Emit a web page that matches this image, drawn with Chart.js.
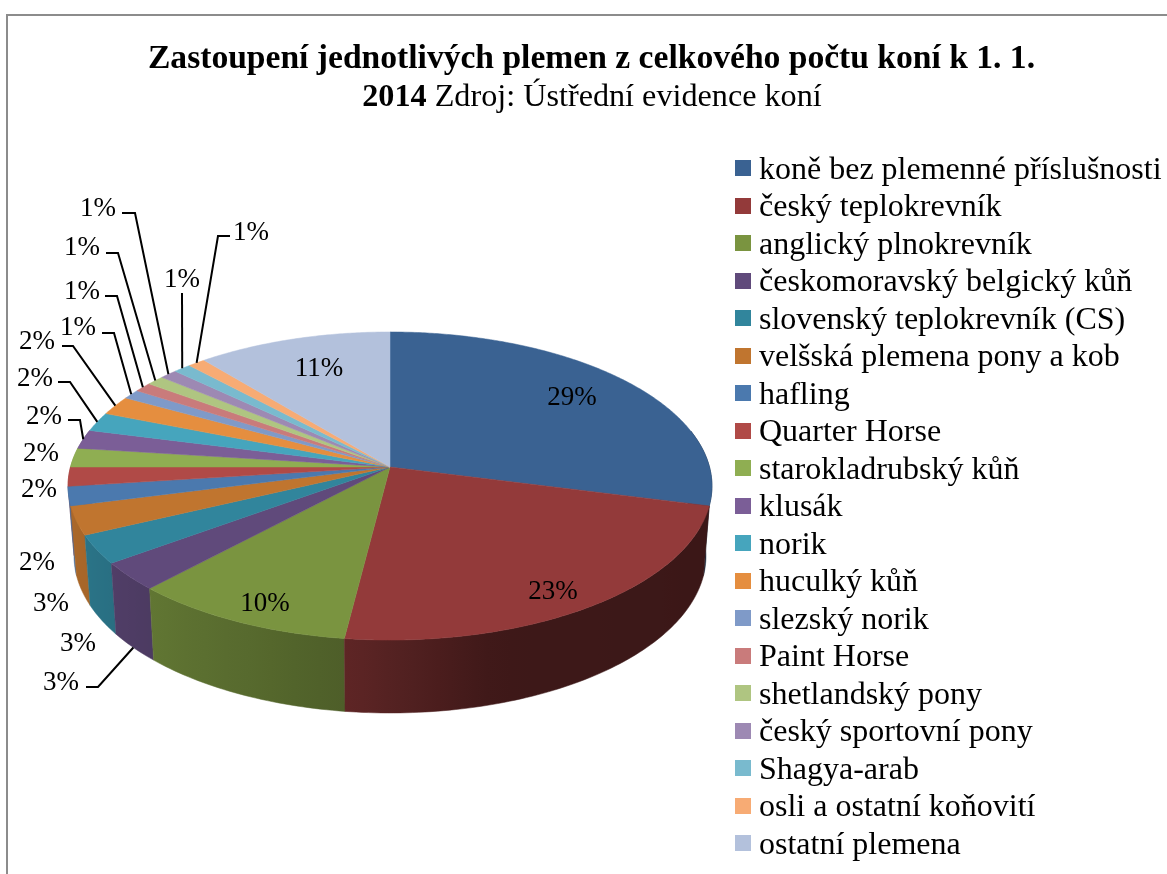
<!DOCTYPE html>
<html lang="cs">
<head>
<meta charset="utf-8">
<style>html,body{margin:0;padding:0;background:#fff}canvas{display:block}</style>
<script src="https://cdn.jsdelivr.net/npm/chart.js@4"></script>
</head>
<body>
<canvas id="c" width="1167" height="874"></canvas>
<script>
// ---- data ----
const categories = ["koně bez plemenné příslušnosti","český teplokrevník","anglický plnokrevník","českomoravský belgický kůň","slovenský teplokrevník (CS)","velšská plemena pony a kob","hafling","Quarter Horse","starokladrubský kůň","klusák","norik","huculký kůň","slezský norik","Paint Horse","shetlandský pony","český sportovní pony","Shagya-arab","osli a ostatní koňovití","ostatní plemena"];
const shares = [29,23,10,3,3,3,2,2,2,2,2,2,1,1,1,1,1,1,11];
const titleLine1 = "Zastoupení jednotlivých plemen z celkového počtu koní k 1. 1.";
const titleBold2 = "2014";
const titleRest2 = " Zdroj: Ústřední evidence koní";

// ---- style ----
const sliceColors = ["#3a6292","#933a3a","#7a9440","#604a7b","#31859c","#c0752f","#4b79ae","#b04a47","#8fae52","#7b5e97","#46a5bd","#e58e3f","#7f9ac8","#c97b7b","#afc581","#9d89b3","#79bace","#f7ab74","#b3c1dc"];
const SERIF = '"Liberation Serif"';
const topDisc = {cx:390, cy:467, a:319.5, b:151.7, k:0.1234};
const baseDisc = {cx:390, cy:536, a:313.4, b:154.5, k:0.127};
// label centre [x,y] and optional leader elbow points
const labelPlacement = [
 {at:[572,398]},{at:[553,592]},{at:[265,604]},
 {at:[61,683],lead:[[86,687],[98,687]]},
 {at:[78,644]},{at:[51,604]},{at:[37,563]},{at:[39,490]},{at:[41,454]},
 {at:[44,417],lead:[[68,420],[80,420]]},
 {at:[35,379],lead:[[58,382],[70,382]]},
 {at:[37,342],lead:[[62,346],[73,346]]},
 {at:[78,328],lead:[[102,333],[114,333]]},
 {at:[82,292],lead:[[105,296],[117,296]]},
 {at:[82,248],lead:[[106,253],[118,253]]},
 {at:[98,209],lead:[[122,213],[135,213]]},
 {at:[182,280],lead:[[182,293]]},
 {at:[251,233],lead:[[230,236],[218,236]]},
 {at:[319,369]}
];

function project(d, theta){
  const u=Math.sin(theta), v=-Math.cos(theta), w=1-d.k*v;
  return [d.cx+d.a*u/w, d.cy+d.b*v/w];
}
function hexRgb(h){return [1,3,5].map(i=>parseInt(h.substr(i,2),16));}
const shadeStops=[[-1,0.9],[-0.7,0.8],[-0.1,0.63],[0.3,0.42],[1,0.40]];
function shadeAt(u){
  for(let i=1;i<shadeStops.length;i++){
    if(u<=shadeStops[i][0]){
      const [a,fa]=shadeStops[i-1],[b,fb]=shadeStops[i];
      return fa+(fb-fa)*(u-a)/(b-a);
    }
  }
  return 0.4;
}
function shaded(hex,f){const c=hexRgb(hex);return `rgb(${c.map(x=>Math.round(x*f)).join(',')})`;}

const pie3d = {
  id:'pie3d',
  beforeDatasetsDraw(chart){
    const ctx=chart.ctx, arcs=chart.getDatasetMeta(0).data;
    const step=Math.PI/180;
    // outer wall of each slice, shaded across its width
    const walls=[];
    arcs.forEach((arc,i)=>{
      const s=arc.startAngle+Math.PI/2, e=arc.endAngle+Math.PI/2;
      const pts=[];
      for(let t=s;t<e;t+=step){ if(-Math.cos(t)>=-0.25) pts.push(t); }
      if(-Math.cos(e)>=-0.25) pts.push(e);
      if(pts.length>1) walls.push({i,pts});
    });
    walls.sort((a,b)=>Math.max(...a.pts.map(t=>-Math.cos(t)))-Math.max(...b.pts.map(t=>-Math.cos(t))));
    walls.forEach(w=>{
      const tops=w.pts.map(t=>project(topDisc,t)), bases=w.pts.map(t=>project(baseDisc,t));
      const xs=tops.concat(bases).map(p=>p[0]);
      const x0=Math.min(...xs), x1=Math.max(...xs);
      const grad=ctx.createLinearGradient(x0,0,x1+0.01,0);
      const n=w.pts.length-1;
      w.pts.forEach((t,j)=>{
        const off=Math.min(1,Math.max(0,(tops[j][0]-x0)/(x1-x0+0.01)));
        if(n<=24||j%4===0||j===n) grad.addColorStop(off,shaded(sliceColors[w.i],shadeAt(Math.sin(t))));
      });
      ctx.beginPath();ctx.moveTo(...tops[0]);
      tops.slice(1).forEach(p=>ctx.lineTo(...p));
      bases.slice().reverse().forEach(p=>ctx.lineTo(...p));
      ctx.closePath();
      ctx.fillStyle=grad;ctx.strokeStyle=grad;ctx.lineWidth=0.5;ctx.fill();ctx.stroke();
    });
    // top face
    arcs.forEach((arc,i)=>{
      const s=arc.startAngle+Math.PI/2, e=arc.endAngle+Math.PI/2;
      ctx.beginPath();ctx.moveTo(topDisc.cx,topDisc.cy);
      for(let t=s;t<e;t+=step/2){ctx.lineTo(...project(topDisc,t));}
      ctx.lineTo(...project(topDisc,e));ctx.closePath();
      ctx.fillStyle=sliceColors[i];ctx.strokeStyle=sliceColors[i];ctx.lineWidth=0.5;ctx.fill();ctx.stroke();
    });
    // percent labels and leaders
    ctx.font=`27px ${SERIF}`;ctx.fillStyle='#000';ctx.textAlign='center';ctx.textBaseline='middle';
    arcs.forEach((arc,i)=>{
      const p=labelPlacement[i], val=chart.data.datasets[0].data[i];
      ctx.fillText(Math.round(val)+'%',p.at[0],p.at[1]);
      if(p.lead){
        const mid=(arc.startAngle+arc.endAngle)/2+Math.PI/2;
        const end=project(-Math.cos(mid)>0.3?baseDisc:topDisc,mid);
        ctx.beginPath();ctx.moveTo(...p.lead[0]);
        p.lead.slice(1).forEach(q=>ctx.lineTo(...q));
        ctx.lineTo(...end);
        ctx.strokeStyle='#000';ctx.lineWidth=2;ctx.stroke();
      }
    });
    return false;
  },
  afterDraw(chart){
    const ctx=chart.ctx;
    // frame
    ctx.strokeStyle='#8c8c8c';ctx.lineWidth=2;
    ctx.beginPath();ctx.moveTo(7,874);ctx.lineTo(7,15);ctx.lineTo(1167,15);ctx.stroke();
    // second title line: bold year + regular source
    ctx.textBaseline='alphabetic';ctx.textAlign='left';ctx.fillStyle='#000';
    ctx.font=`bold 32.2px ${SERIF}`;const w1=ctx.measureText(titleBold2).width;
    ctx.font=`32.2px ${SERIF}`;const w2=ctx.measureText(titleRest2).width;
    let x=592-(w1+w2)/2;
    ctx.font=`bold 32.2px ${SERIF}`;ctx.fillText(titleBold2,x,106);
    ctx.font=`32.2px ${SERIF}`;ctx.fillText(titleRest2,x+w1,106);
    // legend
    ctx.font=`32px ${SERIF}`;
    chart.data.labels.forEach((lab,i)=>{
      const y=177+i*37.5;
      ctx.fillStyle=sliceColors[i];ctx.fillRect(735,Math.round(y)-17,16,16);
      ctx.fillStyle='#000';ctx.fillText(lab,759,y+1.5);
    });
  }
};

new Chart(document.getElementById('c'),{
  type:'pie',
  data:{labels:categories,datasets:[{data:shares,backgroundColor:sliceColors,borderWidth:0}]},
  plugins:[pie3d],
  options:{
    responsive:false,animation:false,
    layout:{padding:{left:16,top:0,right:0,bottom:0}},
    plugins:{
      legend:{display:false},tooltip:{enabled:false},
      title:{display:true,text:titleLine1,color:'#000',align:'center',
        font:{family:SERIF,size:33.6,weight:'bold',lineHeight:1.15},padding:{top:40,bottom:48}}
    }
  }
});
</script>
</body>
</html>
